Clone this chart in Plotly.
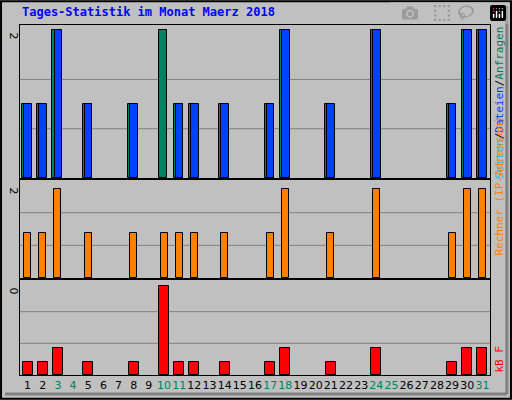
import plotly.graph_objects as go

days = list(range(1, 32))
hits =  [1,1,2,0,1,0,0,1,0,2,1,1,0,1,0,0,1,2,0,0,1,0,0,2,0,0,0,0,1,2,2]
files = [1,1,2,0,1,0,0,1,0,0,1,1,0,1,0,0,1,2,0,0,1,0,0,2,0,0,0,0,1,2,2]
visits= [1,1,2,0,1,0,0,1,0,1,1,1,0,1,0,0,1,2,0,0,1,0,0,2,0,0,0,0,1,2,2]
kbytes= [4.5,4.5,9,0,4.5,0,0,4.5,0,30,4.5,4.5,0,4.5,0,0,4.5,9,0,0,4.5,0,0,9,0,0,0,0,4.5,9,9]
weekend = [3,4,10,11,17,18,24,25,31]

W, H = 512, 400
def fx(p): return p / W
def fy(p): return 1 - p / H
def nz(v): return [x if x else None for x in v]

bg = "#C0C0C0"
fig = go.Figure()
line = dict(color="black", width=1)
fig.add_trace(go.Bar(x=days, y=nz(hits), marker=dict(color="#00805C", line=line), offset=-0.36, width=0.58, xaxis="x", yaxis="y"))
fig.add_trace(go.Bar(x=days, y=nz(files), marker=dict(color="#0040FF", line=line), offset=-0.22, width=0.5, xaxis="x", yaxis="y"))
fig.add_trace(go.Bar(x=days, y=nz(visits), marker=dict(color="#FF8000", line=line), offset=-0.23, width=0.46, xaxis="x2", yaxis="y2"))
fig.add_trace(go.Bar(x=days, y=nz(kbytes), marker=dict(color="#FF0000", line=line), offset=-0.33, width=0.66, xaxis="x3", yaxis="y3"))

xdom = [fx(20), fx(490)]
ticktext = [f'<span style="color:#00805C">{d}</span>' if d in weekend else str(d) for d in days]
common_x = dict(domain=xdom, range=[0.5, 31.5], showgrid=False, zeroline=False, showline=True, linecolor="black", mirror=True, fixedrange=True)
panels = [("y", 25, 178, 2.07, [2/3, 4/3]), ("y2", 180, 278, 2.2, [2.2/3, 4.4/3]), ("y3", 280, 375, 32, [32/3, 64/3])]
layout = dict(width=W, height=H, margin=dict(l=0, r=0, t=0, b=0), paper_bgcolor=bg, plot_bgcolor=bg,
              showlegend=False, barmode="overlay", bargap=0,
              font=dict(family="DejaVu Sans", size=11, color="black"))
layout["xaxis"] = dict(common_x, anchor="y", showticklabels=False)
layout["xaxis2"] = dict(common_x, anchor="y2", showticklabels=False)
layout["xaxis3"] = dict(common_x, anchor="y3", tickmode="array", tickvals=days, ticktext=ticktext, ticks="",
                        tickangle=0, automargin=False, tickfont=dict(size=11, family="DejaVu Sans"))
shapes = []
for i, (yn, t, b, mx, grid) in enumerate(panels):
    key = "yaxis" if i == 0 else f"yaxis{i+1}"
    layout[key] = dict(domain=[fy(b), fy(t)], range=[0, mx], anchor="x" if i == 0 else f"x{i+1}",
                       showticklabels=False, showgrid=False, zeroline=False, showline=True, linecolor="black", mirror=True, fixedrange=True)
    xr = "x" if i == 0 else f"x{i+1}"
    for g in grid:
        shapes.append(dict(type="line", xref=xr + " domain", yref=yn, x0=0, x1=1, y0=g, y1=g, line=dict(color="#808080", width=1), layer="below"))
shapes.append(dict(type="rect", xref="paper", yref="paper", x0=0.002, x1=0.998, y0=0.003, y1=0.997, line=dict(color="black", width=2)))
shapes.append(dict(type="line", xref="paper", yref="paper", x0=0.01, x1=0.99, y0=0.015, y1=0.015, line=dict(color="#808080", width=3)))
shapes.append(dict(type="line", xref="paper", yref="paper", x0=0.99, x1=0.99, y0=0.015, y1=0.985, line=dict(color="#808080", width=3)))
layout["shapes"] = shapes

ann = [dict(text="<b>Tages-Statistik im Monat Maerz 2018</b>", x=fx(20), y=fy(12), xref="paper", yref="paper",
            xanchor="left", yanchor="middle", showarrow=False, font=dict(family="DejaVu Sans Mono", size=12, color="#0000FF"))]
for txt, yp in [("2", 30), ("2", 185), ("0", 285)]:
    ann.append(dict(text=txt, x=fx(13), y=fy(yp), xref="paper", yref="paper", textangle=90, showarrow=False,
                    xanchor="center", yanchor="top", font=dict(size=11)))
ann.append(dict(text='<span style="color:#00C0FF">Seiten</span>/<span style="color:#0040FF">Dateien</span>/<span style="color:#00805C">Anfragen</span>',
                x=fx(499), y=fy(25), xref="paper", yref="paper", textangle=-90, showarrow=False, xanchor="center", yanchor="top",
                font=dict(family="DejaVu Sans Mono", size=11)))
ann.append(dict(text="Rechner (IP-Adressen)", x=fx(499), y=fy(258), xref="paper", yref="paper", textangle=-90, showarrow=False,
                xanchor="center", yanchor="bottom", font=dict(family="DejaVu Sans Mono", size=11, color="#FF8000")))
ann.append(dict(text="kB F", x=fx(499), y=fy(375), xref="paper", yref="paper", textangle=-90, showarrow=False,
                xanchor="center", yanchor="bottom", font=dict(family="DejaVu Sans Mono", size=11, color="#FF0000")))
layout["annotations"] = ann
fig.update_layout(**layout)
fig.write_html("out.html", post_script="document.body.style.margin='0px';document.body.style.overflow='hidden';")
